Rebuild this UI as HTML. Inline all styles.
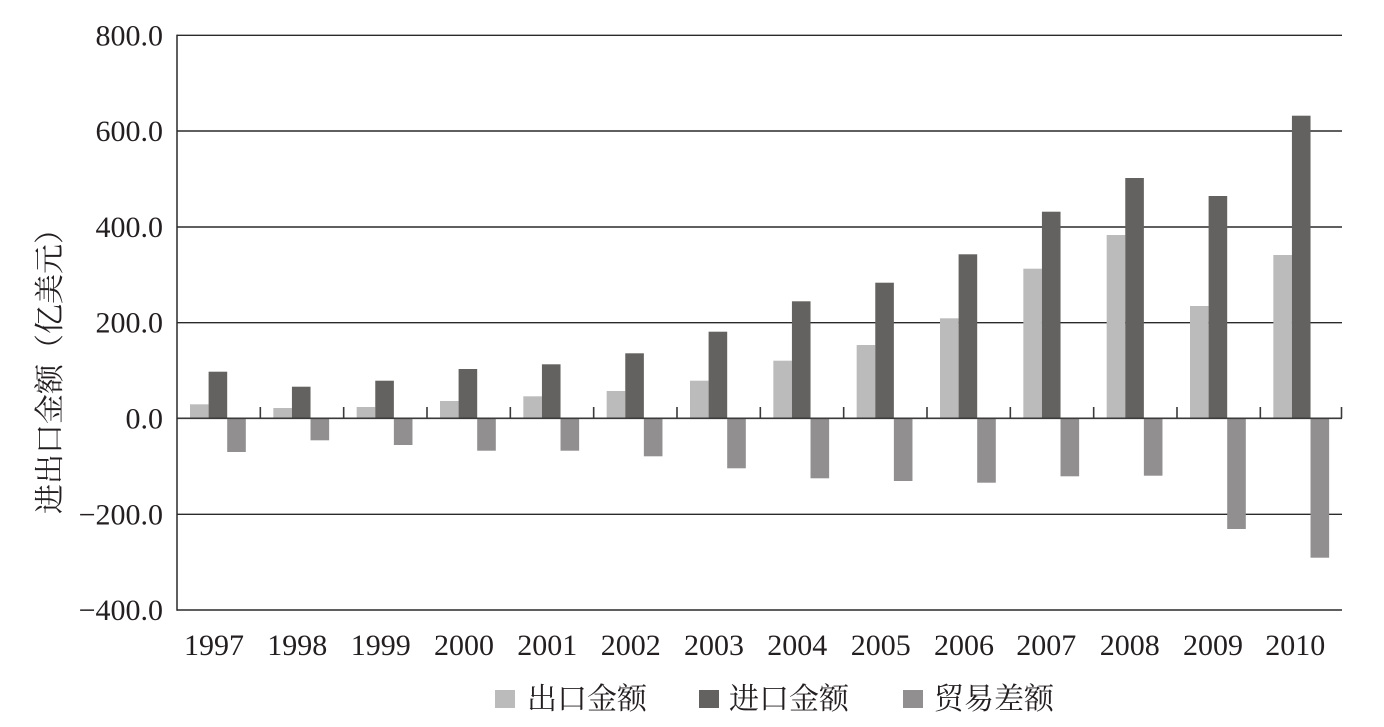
<!DOCTYPE html>
<html><head><meta charset="utf-8"><style>
html,body{margin:0;padding:0;background:#fff;}
svg{display:block;}
.t{font-family:"Liberation Serif","Noto Serif CJK SC",serif;font-size:30px;fill:#231f20;}
.l{fill:#bcbbbb}.d{fill:#636260}.m{fill:#918f8f}
</style></head><body>
<svg width="1384" height="727" viewBox="0 0 1384 727" xmlns="http://www.w3.org/2000/svg">
<g stroke="#2a2a2a" stroke-width="1.4">
<line x1="177" y1="35.3" x2="1342" y2="35.3"/>
<line x1="177" y1="131" x2="1342" y2="131"/>
<line x1="177" y1="227" x2="1342" y2="227"/>
<line x1="177" y1="322.7" x2="1342" y2="322.7"/>
<line x1="177" y1="514.3" x2="1342" y2="514.3"/>
<line x1="177" y1="610" x2="1342" y2="610"/>
</g>
<g class="l">
<rect x="190" y="404.3" width="18.6" height="14"/>
<rect x="273.33" y="408" width="18.6" height="10.3"/>
<rect x="356.67" y="407" width="18.6" height="11.3"/>
<rect x="440" y="401" width="18.6" height="17.3"/>
<rect x="523.33" y="396.3" width="18.6" height="22"/>
<rect x="606.67" y="391" width="18.6" height="27.3"/>
<rect x="690" y="380.7" width="18.6" height="37.6"/>
<rect x="773.33" y="360.7" width="18.6" height="57.6"/>
<rect x="856.67" y="345" width="18.6" height="73.3"/>
<rect x="940" y="318.3" width="18.6" height="100"/>
<rect x="1023.33" y="268.7" width="18.6" height="149.6"/>
<rect x="1106.67" y="235" width="18.6" height="183.3"/>
<rect x="1190" y="306" width="18.6" height="112.3"/>
<rect x="1273.33" y="255" width="18.6" height="163.3"/>
</g>
<g class="d">
<rect x="208.6" y="371.7" width="18.6" height="46.6"/>
<rect x="291.93" y="386.7" width="18.6" height="31.6"/>
<rect x="375.27" y="380.7" width="18.6" height="37.6"/>
<rect x="458.6" y="369" width="18.6" height="49.3"/>
<rect x="541.93" y="364.3" width="18.6" height="54"/>
<rect x="625.27" y="353.3" width="18.6" height="65"/>
<rect x="708.6" y="331.7" width="18.6" height="86.6"/>
<rect x="791.93" y="301.3" width="18.6" height="117"/>
<rect x="875.27" y="282.7" width="18.6" height="135.6"/>
<rect x="958.6" y="254.3" width="18.6" height="164"/>
<rect x="1041.93" y="211.7" width="18.6" height="206.6"/>
<rect x="1125.27" y="178" width="18.6" height="240.3"/>
<rect x="1208.6" y="196" width="18.6" height="222.3"/>
<rect x="1291.93" y="115.7" width="18.6" height="302.6"/>
</g>
<g class="m">
<rect x="227.2" y="418.3" width="18.6" height="33.7"/>
<rect x="310.53" y="418.3" width="18.6" height="22"/>
<rect x="393.87" y="418.3" width="18.6" height="26.7"/>
<rect x="477.2" y="418.3" width="18.6" height="32.4"/>
<rect x="560.53" y="418.3" width="18.6" height="32.4"/>
<rect x="643.87" y="418.3" width="18.6" height="38"/>
<rect x="727.2" y="418.3" width="18.6" height="50"/>
<rect x="810.53" y="418.3" width="18.6" height="60"/>
<rect x="893.87" y="418.3" width="18.6" height="62.7"/>
<rect x="977.2" y="418.3" width="18.6" height="64.4"/>
<rect x="1060.53" y="418.3" width="18.6" height="58"/>
<rect x="1143.87" y="418.3" width="18.6" height="57.4"/>
<rect x="1227.2" y="418.3" width="18.6" height="110.7"/>
<rect x="1310.53" y="418.3" width="18.6" height="139.4"/>
</g>
<g stroke="#3a3a3a" stroke-width="1.6">
<line x1="177" y1="418.3" x2="1342" y2="418.3"/>
<path d="M260.33 407V418.3M343.67 407V418.3M427 407V418.3M510.33 407V418.3M593.67 407V418.3M677 407V418.3M760.33 407V418.3M843.67 407V418.3M927 407V418.3M1010.33 407V418.3M1093.67 407V418.3M1177 407V418.3M1260.33 407V418.3M1341.5 407V418.3" fill="none"/>
</g>
<line x1="177" y1="34.6" x2="177" y2="610.7" stroke="#2a2a2a" stroke-width="1.5"/>
<g class="t" text-anchor="end">
<text x="163" y="45.3">800.0</text>
<text x="163" y="141">600.0</text>
<text x="163" y="237">400.0</text>
<text x="163" y="332.7">200.0</text>
<text x="163" y="428.3">0.0</text>
<text x="163" y="524.3">−200.0</text>
<text x="163" y="620">−400.0</text>
</g>
<g class="t" text-anchor="middle">
<text x="214" y="655">1997</text>
<text x="297.3" y="655">1998</text>
<text x="380.7" y="655">1999</text>
<text x="464" y="655">2000</text>
<text x="547.3" y="655">2001</text>
<text x="630.7" y="655">2002</text>
<text x="714" y="655">2003</text>
<text x="797.3" y="655">2004</text>
<text x="880.7" y="655">2005</text>
<text x="964" y="655">2006</text>
<text x="1046.3" y="655">2007</text>
<text x="1129.7" y="655">2008</text>
<text x="1213" y="655">2009</text>
<text x="1295.3" y="655">2010</text>
</g>
<text class="t" x="0" y="0" text-anchor="middle" transform="translate(60,364) rotate(-90)">进出口金额（亿美元）</text>
<rect class="l" x="495" y="690" width="20" height="18"/>
<text class="t" x="527" y="709">出口金额</text>
<rect class="d" x="699" y="690" width="20" height="18"/>
<text class="t" x="729" y="709">进口金额</text>
<rect class="m" x="903" y="690" width="20" height="18"/>
<text class="t" x="934" y="709">贸易差额</text>
</svg>
</body></html>
